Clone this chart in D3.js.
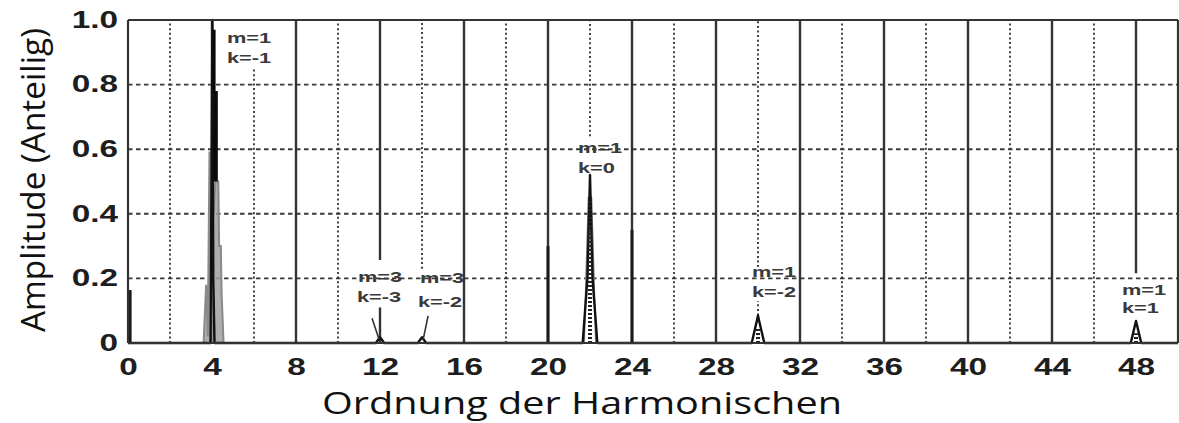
<!DOCTYPE html>
<html><head><meta charset="utf-8">
<script src="https://cdn.jsdelivr.net/npm/d3@7"></script>
<style>body{margin:0;background:#fff;} svg{display:block;}</style>
</head><body><svg id="chart" width="1179" height="423"></svg>
<script>
// ---- data ----
const xTicks = [0,4,8,12,16,20,24,28,32,36,40,44,48];
const xTickLabels = ["0","4","8","12","16","20","24","28","32","36","40","44","48"];
const yTicks = [0,0.2,0.4,0.6,0.8,1.0];
const yTickLabels = ["0","0.2","0.4","0.6","0.8","1.0"];
const solidGridX = [4,8,12,16,20,24,28,32,36,40,44,48];
const dottedGridX = [2,6,10,14,18,22,26,30,34,38,42,46];
const hGridY = [0.2,0.4,0.6,0.8];
// interruptions of grid lines behind the annotations (order, amplitude range)
const gridGaps = [
  {order:12, lo:0.11, hi:0.257},
  {order:48, lo:0,    hi:0.216},
  {order:6,  lo:0.85, hi:1},
  {order:14, lo:0,    hi:0.23},
  {order:22, lo:0,    hi:0.64},
  {order:30, lo:0.13, hi:0.235},
  {order:30, lo:0,    hi:0.085}
];
// spectra: [order, amplitude]
const blackSpectrum = [
  [0,0],[3.93,0],[4.02,1.0],[4.06,0.2],[4.12,0],
  [11.8,0],[12.0,0.018],[12.2,0],[13.8,0],[14.0,0.018],[14.2,0],
  [21.65,0],[21.88,0.2],[22.0,0.52],[22.12,0.2],[22.35,0],
  [29.7,0],[29.95,0.07],[30.0,0.085],[30.05,0.07],[30.3,0],
  [47.75,0],[47.97,0.06],[48.0,0.068],[48.03,0.06],[48.25,0],[50,0]
];
const blackBars = [
  {order:4.1, lo:0.77, hi:0.97},
  {order:4.17, lo:0.5, hi:0.78}
];
const graySpectrum = [
  [3.6,0],[3.72,0.18],[3.8,0.02],[3.88,0.59],[4.0,0.59],[4.08,0.4],[4.16,0.5],[4.3,0.5],[4.34,0.3],[4.42,0.3],[4.46,0.15],[4.55,0]
];
const grayPeak22 = [[21.72,0],[21.93,0.45],[22.07,0.45],[22.28,0]];
const dottedStems = [{order:22.0, amp:0.44},{order:30.0, amp:0.045},{order:48.0, amp:0.03}];
const darkStems = [{order:0.1, amp:0.164},{order:20, amp:0.3},{order:24, amp:0.35}];
const annotations = [
  {label:"m=1",  order:4.71,  amp:0.929},
  {label:"k=-1", order:4.71,  amp:0.867},
  {label:"m=1",  order:21.43, amp:0.588},
  {label:"k=0",  order:21.43, amp:0.526},
  {label:"m=3",  order:10.95, amp:0.189},
  {label:"k=-3", order:10.9,  amp:0.127},
  {label:"m=3",  order:13.9,  amp:0.186},
  {label:"k=-2", order:13.81, amp:0.111},
  {label:"m=1",  order:29.71, amp:0.204},
  {label:"k=-2", order:29.71, amp:0.142},
  {label:"m=1",  order:47.33, amp:0.149},
  {label:"k=1",  order:47.33, amp:0.093}
];
const arrows = [
  {x1:11.62, y1:0.077, x2:11.95, y2:0.012},
  {x1:14.29, y1:0.084, x2:14.05, y2:0.009}
];

// ---- chart ----
const svg = d3.select("#chart");
const x = d3.scaleLinear().domain([0,50]).range([128,1178]);
const y = d3.scaleLinear().domain([0,1]).range([343,20]);
const SX = 1.45; // horizontal stretch of the scanned lettering

function segments(xv){
  const gaps = gridGaps.filter(g=>g.order===xv).sort((a,b)=>a.lo-b.lo);
  let segs=[], cur=0;
  gaps.forEach(g=>{ if(g.lo>cur) segs.push([cur,g.lo]); cur=Math.max(cur,g.hi); });
  if(cur<1) segs.push([cur,1]);
  return segs;
}
function stretch(sel){
  sel.each(function(){
    const w = this.getComputedTextLength();
    d3.select(this).attr("textLength", w*SX).attr("lengthAdjust","spacingAndGlyphs");
  });
}

const grid = svg.append("g");
grid.selectAll(".hg").data(hGridY).join("line")
  .attr("x1",x(0)).attr("x2",x(50)).attr("y1",d=>y(d)).attr("y2",d=>y(d))
  .attr("stroke","#3a3a3a").attr("stroke-width",1.9).attr("stroke-dasharray","4.5,3.5");
dottedGridX.forEach(xv=>{
  segments(xv).forEach(s=>{
    grid.append("line").attr("x1",x(xv)).attr("x2",x(xv)).attr("y1",y(s[0])).attr("y2",y(s[1]))
      .attr("stroke","#3a3a3a").attr("stroke-width",1.9).attr("stroke-dasharray","2,2.6");
  });
});
solidGridX.forEach(xv=>{
  segments(xv).forEach(s=>{
    grid.append("line").attr("x1",x(xv)).attr("x2",x(xv)).attr("y1",y(s[0])).attr("y2",y(s[1]))
      .attr("stroke","#333").attr("stroke-width",2.4);
  });
});

svg.append("g").selectAll("line").data(darkStems).join("line")
  .attr("x1",d=>x(d.order)).attr("x2",d=>x(d.order)).attr("y1",y(0)).attr("y2",d=>y(d.amp))
  .attr("stroke","#1a1a1a").attr("stroke-width",3);

const line = d3.line().x(d=>x(d[0])).y(d=>y(d[1]));
svg.append("path").attr("d",line(graySpectrum)).attr("fill","#a0a0a0").attr("fill-opacity",0.85)
  .attr("stroke","#8a8a8a").attr("stroke-width",2).attr("stroke-linejoin","miter");
svg.append("path").attr("d",line(grayPeak22)).attr("fill","#fff")
  .attr("stroke","#777").attr("stroke-width",1.6);
svg.append("path").attr("d",line(blackSpectrum)).attr("fill","none")
  .attr("stroke","#111").attr("stroke-width",2.4).attr("stroke-linejoin","round");
svg.append("g").selectAll("line").data(blackBars).join("line")
  .attr("x1",d=>x(d.order)).attr("x2",d=>x(d.order)).attr("y1",d=>y(d.lo)).attr("y2",d=>y(d.hi))
  .attr("stroke","#0a0a0a").attr("stroke-width",(d,i)=>i===0?3:4.5);
svg.append("g").selectAll("line").data(dottedStems).join("line")
  .attr("x1",d=>x(d.order)).attr("x2",d=>x(d.order)).attr("y1",y(0)).attr("y2",d=>y(d.amp))
  .attr("stroke","#222").attr("stroke-width",4).attr("stroke-dasharray","2,2");

svg.append("g").selectAll("line").data(arrows).join("line")
  .attr("x1",d=>x(d.x1)).attr("x2",d=>x(d.x2)).attr("y1",d=>y(d.y1)).attr("y2",d=>y(d.y2))
  .attr("stroke","#333").attr("stroke-width",1.6);

const frame = svg.append("g").attr("stroke","#333").attr("stroke-width",2.2).attr("fill","none");
frame.append("line").attr("x1",x(0)).attr("x2",x(50)).attr("y1",y(1)).attr("y2",y(1));
frame.append("line").attr("x1",x(0)).attr("x2",x(50)).attr("y1",y(0)).attr("y2",y(0));
frame.append("line").attr("x1",x(0)).attr("x2",x(0)).attr("y1",y(0)).attr("y2",y(1));
frame.append("line").attr("x1",x(50)).attr("x2",x(50)).attr("y1",y(0)).attr("y2",y(1));

const xAxis = svg.append("g").attr("transform",`translate(0,${y(0)})`)
  .call(d3.axisBottom(x).tickValues(xTicks).tickSize(0).tickPadding(16).tickFormat((d,i)=>xTickLabels[i]));
const yAxis = svg.append("g").attr("transform",`translate(${x(0)},0)`)
  .call(d3.axisLeft(y).tickValues(yTicks).tickSize(0).tickPadding(10).tickFormat((d,i)=>yTickLabels[i]));
[xAxis,yAxis].forEach(a=>{
  a.select(".domain").remove();
  a.selectAll("text").attr("font-family","'Liberation Sans',Arial,sans-serif")
   .attr("font-weight","bold").attr("font-size",23).attr("fill","#1e1e1e")
   .call(stretch);
});

svg.append("g").selectAll("text").data(annotations).join("text")
  .attr("x",d=>x(d.order)).attr("y",d=>y(d.amp))
  .attr("font-family","'Liberation Sans',Arial,sans-serif").attr("font-weight","bold")
  .attr("font-size",15).attr("fill","#3a3a3a").text(d=>d.label)
  .call(stretch);

svg.append("text").attr("x",582).attr("y",414).attr("text-anchor","middle")
  .attr("font-family","'Open Sans',sans-serif").attr("font-size",31).attr("fill","#111")
  .attr("textLength",520).attr("lengthAdjust","spacingAndGlyphs")
  .text("Ordnung der Harmonischen");
svg.append("text").attr("transform","translate(45,180) rotate(-90)").attr("text-anchor","middle")
  .attr("font-family","'Open Sans',sans-serif").attr("font-size",32).attr("fill","#111")
  .attr("textLength",304).attr("lengthAdjust","spacingAndGlyphs")
  .text("Amplitude (Anteilig)");
</script></body></html>
